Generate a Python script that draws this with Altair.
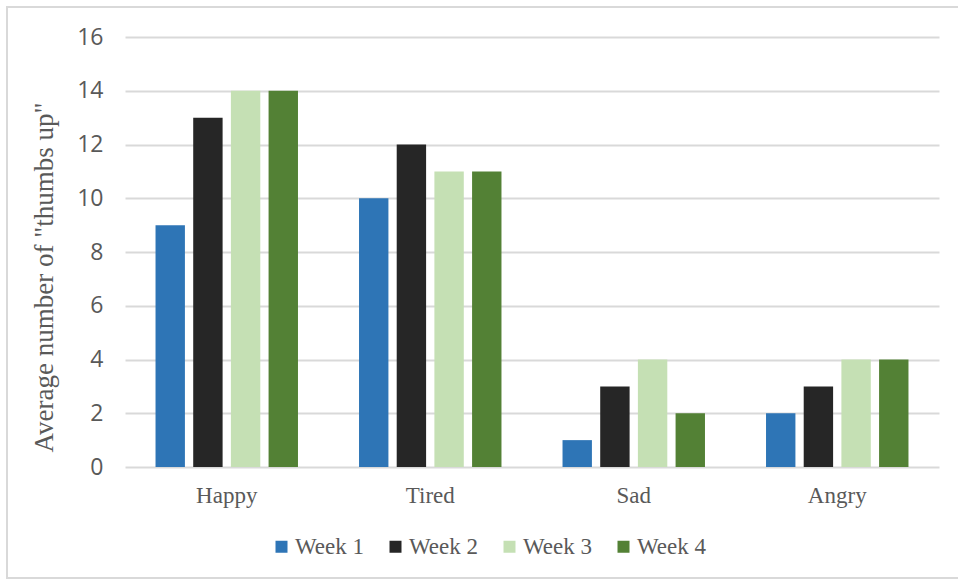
import altair as alt
import pandas as pd

categories = ["Happy", "Tired", "Sad", "Angry"]
weeks = ["Week 1", "Week 2", "Week 3", "Week 4"]
week1 = [9, 10, 1, 2]
week2 = [13, 12, 3, 3]
week3 = [14, 11, 4, 4]
week4 = [14, 11, 2, 4]
colors = ["#2E75B6", "#262626", "#C5E0B4", "#538135"]

rows = []
for w, vals in zip(weeks, [week1, week2, week3, week4]):
    for c, v in zip(categories, vals):
        rows.append({"emotion": c, "week": w, "value": v})
df = pd.DataFrame(rows)

frame = alt.Chart(pd.DataFrame({"k": [0]})).mark_rect(
    fill=None, stroke="#D9D9D9", strokeWidth=2
).encode(
    x=alt.value(-118), x2=alt.value(840), y=alt.value(-30), y2=alt.value(541)
)

bars = alt.Chart(df).mark_bar().encode(
    x=alt.X("emotion:N", sort=categories,
            scale=alt.Scale(paddingInner=0.3, paddingOuter=0.15),
            axis=alt.Axis(title=None, labelAngle=0, labelFont="Liberation Serif",
                          labelFontSize=23, labelColor="#595959", labelPadding=17,
                          ticks=False, domain=False, grid=False)),
    xOffset=alt.XOffset("week:N", sort=weeks,
                        scale=alt.Scale(paddingInner=0.22, paddingOuter=0)),
    y=alt.Y("value:Q", scale=alt.Scale(domain=[0, 16], nice=False),
            axis=alt.Axis(title='Average number of "thumbs up"', values=list(range(0, 17, 2)),
                          titleFont="Liberation Serif", titleFontSize=27,
                          titleFontWeight="normal", titleColor="#595959", titlePadding=18,
                          titleY=240,
                          labelFont="Open Sans", labelFontSize=23, labelColor="#595959",
                          labelPadding=22, ticks=False, domain=False,
                          gridColor="#D9D9D9", gridWidth=2)),
    color=alt.Color("week:N", sort=weeks,
                    scale=alt.Scale(domain=weeks, range=colors),
                    legend=alt.Legend(title=None, orient="none", direction="horizontal",
                                      legendX=145, legendY=498,
                                      symbolType="square", symbolSize=144,
                                      symbolStrokeWidth=0, labelFont="Liberation Serif",
                                      labelFontSize=23, labelColor="#595959",
                                      labelOffset=2, columnPadding=19)),
)

chart = alt.layer(frame, bars).properties(
    width=814, height=430,
    autosize=alt.AutoSizeParams(type="none"),
    padding={"left": 125, "top": 37, "right": 19, "bottom": 114},
    background="white",
).configure_view(stroke=None)

chart.save("out.html", embed_options={"renderer": "svg", "actions": False})
